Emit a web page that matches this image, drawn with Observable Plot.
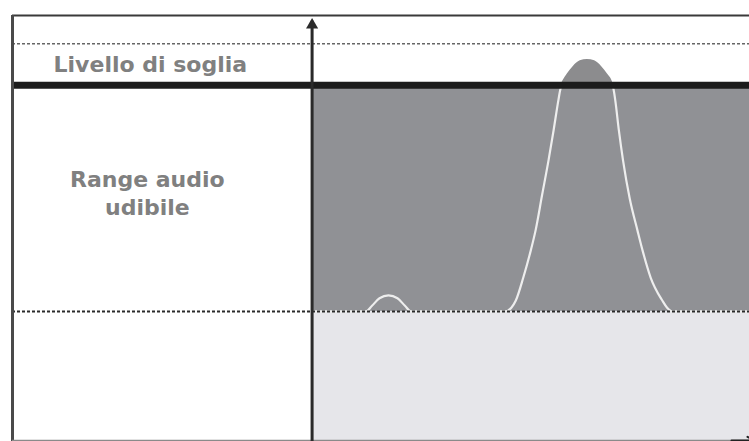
<!DOCTYPE html>
<html>
<head>
<meta charset="utf-8">
<script src="https://cdn.jsdelivr.net/npm/d3@7"></script>
<script src="https://cdn.jsdelivr.net/npm/@observablehq/plot@0.6"></script>
<style>
  html, body { margin: 0; padding: 0; background: #ffffff; }
  #chart svg { display: block; }
</style>
</head>
<body>
<div id="chart"></div>
<script>
// ---- data (levels in arbitrary dB-like units, x in arbitrary frequency units) ----
const curveX =     [0, 18, 20, 22.5, 25.5, 28.5, 31, 33, 64.5, 66.5, 68, 70.5, 73, 74.6, 76.8, 78.9, 80.6, 82.2, 82.9, 83.6, 85.2, 87.2, 89.5, 91.9, 94.3, 96.6, 98.6, 100.2, 100.6, 101.2, 102.4, 103.8, 106, 108.6, 110.3, 113, 116.9, 118.5, 120.3, 146];
const curveLevel = [0, 0, 3, 7, 8.5, 7, 3, 0, 0, 2, 5.8, 18, 32.4, 43, 62, 80, 96, 112, 118, 122, 126, 130, 133, 133.7, 133, 130, 126, 122, 118, 112, 96, 80, 60, 43, 32.4, 18, 5.8, 2, 0, 0];
const hearingThreshold = 0;     // dotted line, bottom of audible range
const painThreshold = 120;      // "Livello di soglia" thick line
const upperDotted = 142;        // upper dotted reference
const bandNames = ["Range audio udibile", "sotto soglia"];
const bandFrom = [0, -69];
const bandTo = [120, 0];
const bandColors = ["#909195", "#e6e6ea"];
const labels = ["Livello di soglia", "Range audio\nudibile"];
const labelX = [-54, -55];
const labelY = [132, 63.5];

const curve = curveX.map((x, i) => ({x, level: curveLevel[i]}));
const bands = bandNames.map((name, i) => ({name, from: bandFrom[i], to: bandTo[i], color: bandColors[i]}));
const texts = labels.map((t, i) => ({t, x: labelX[i], y: labelY[i]}));

const chart = Plot.plot({
  width: 749,
  height: 441,
  marginLeft: 12,
  marginTop: 15,
  marginRight: 0,
  marginBottom: 0,
  x: {domain: [-100, 146], axis: null},
  y: {domain: [-69, 157], axis: null},
  style: {background: "#ffffff"},
  marks: [
    Plot.rect(bands, {x1: 0, x2: 146, y1: "from", y2: "to", fill: "color"}),
    Plot.line(curve, {x: "x", y: d => Math.min(d.level, painThreshold), stroke: "#eeeeee", strokeWidth: 2.2, curve: "monotone-x"}),
    Plot.areaY(curve, {x: "x", y1: painThreshold, y2: d => Math.max(d.level, painThreshold), fill: "#8c8c8e", curve: "monotone-x"}),
    Plot.ruleY([hearingThreshold], {stroke: "#2a2a2a", strokeWidth: 2, strokeDasharray: "3,2"}),
    Plot.ruleY([upperDotted], {stroke: "#666", strokeWidth: 1.5, strokeDasharray: "3,2"}),
    Plot.ruleY([painThreshold], {stroke: "#1c1c1c", strokeWidth: 7}),
    Plot.ruleY([157], {stroke: "#3a3a3a", strokeWidth: 2}),
    Plot.ruleX([-100], {stroke: "#4a4a4a", strokeWidth: 3}),
    Plot.ruleY([-68.5], {stroke: "#8a8a8a", strokeWidth: 1.5}),
    Plot.ruleX([0], {y1: -69, y2: 154, stroke: "#2a2a2a", strokeWidth: 3}),
    Plot.dot([{x: 0, y: 152}], {x: "x", y: "y", symbol: "triangle", r: 4.5, fill: "#2a2a2a"}),
    Plot.arrow([{x1: 140, y1: -68.5, x2: 147.5, y2: -68.5}], {x1: "x1", y1: "y1", x2: "x2", y2: "y2", stroke: "#222", strokeWidth: 2, headLength: 12}),
    Plot.text(texts, {x: "x", y: "y", text: "t", fill: "#808080", fontSize: 22, fontWeight: "bold", fontFamily: "DejaVu Sans", letterSpacing: 0.5, lineHeight: 1.27})
  ]
});
document.getElementById("chart").append(chart);
</script>
</body>
</html>
